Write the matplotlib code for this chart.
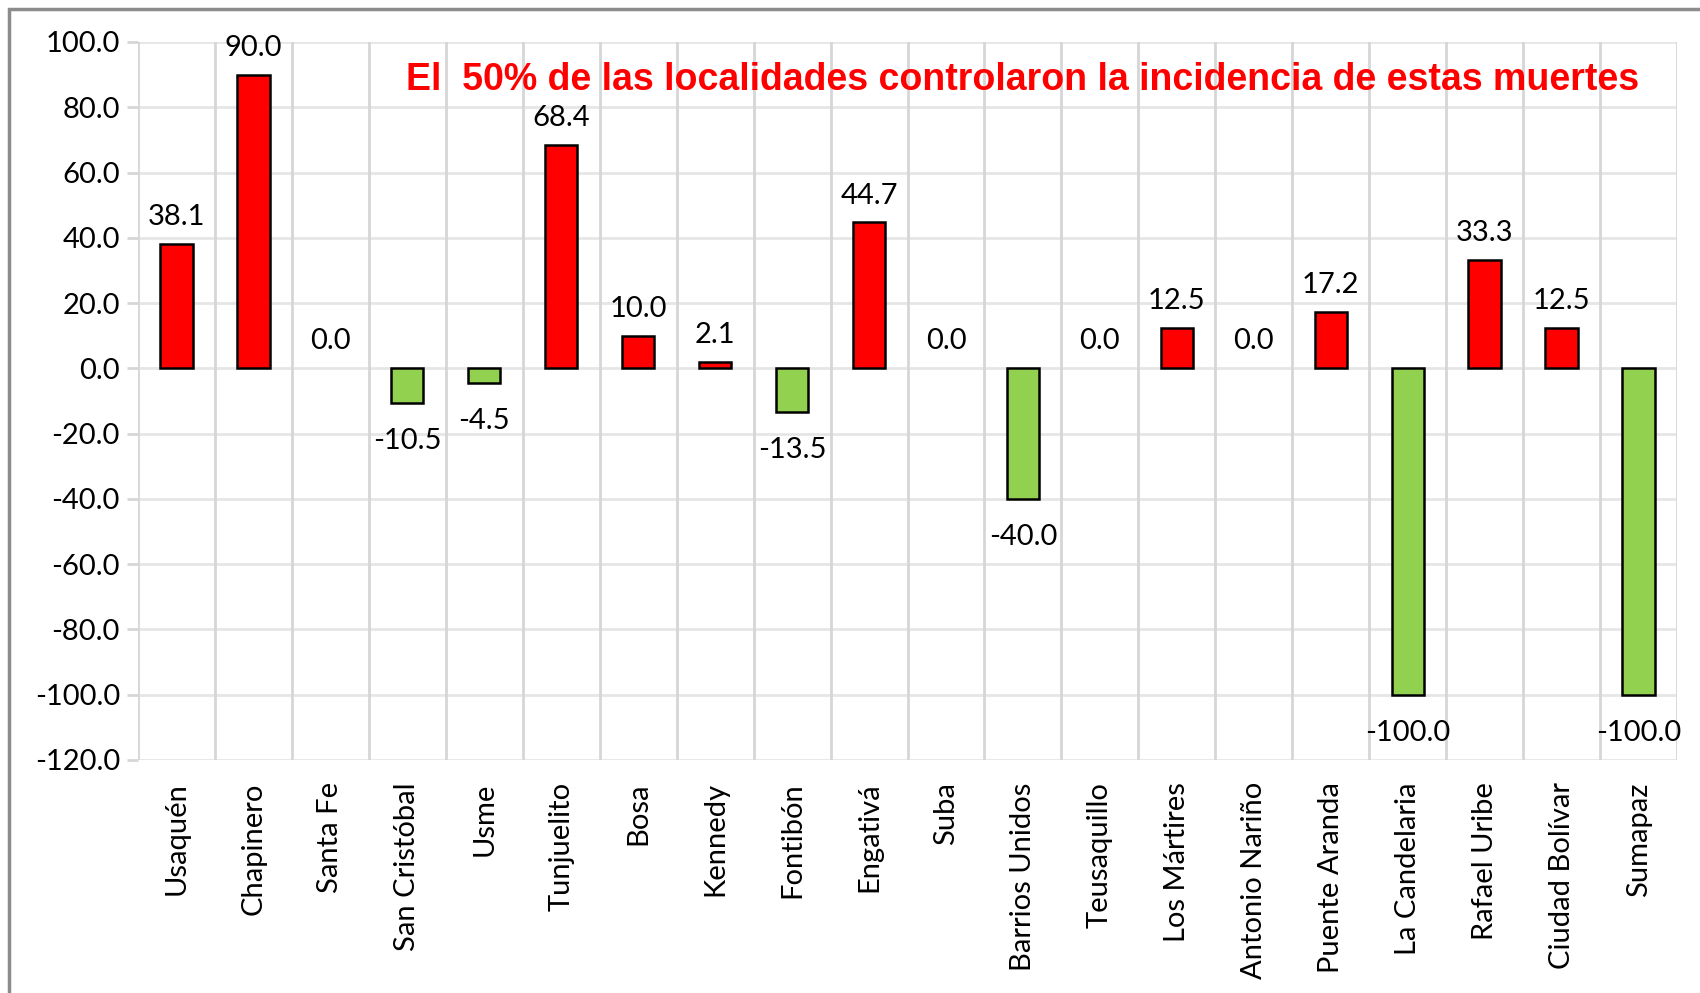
import matplotlib
matplotlib.use("Agg")
import matplotlib.pyplot as plt
from matplotlib.patches import Rectangle

categories = ["Usaquén", "Chapinero", "Santa Fe", "San Cristóbal", "Usme", "Tunjuelito",
              "Bosa", "Kennedy", "Fontibón", "Engativá", "Suba", "Barrios Unidos",
              "Teusaquillo", "Los Mártires", "Antonio Nariño", "Puente Aranda",
              "La Candelaria", "Rafael Uribe", "Ciudad Bolívar", "Sumapaz"]
values = [38.1, 90.0, 0.0, -10.5, -4.5, 68.4, 10.0, 2.1, -13.5, 44.7, 0.0, -40.0,
          0.0, 12.5, 0.0, 17.2, -100.0, 33.3, 12.5, -100.0]
yticks = [100, 80, 60, 40, 20, 0, -20, -40, -60, -80, -100, -120]
title = "El  50% de las localidades controlaron la incidencia de estas muertes"

RED = "#FF0000"
GREEN = "#92D050"
FONT = ["Lato", "DejaVu Sans"]
FS = 21

fig = plt.figure(figsize=(17, 9.93), dpi=100)
ax = fig.add_axes([138/1700, 1-760/993, (1677-138)/1700, (760-42)/993])

x = list(range(len(categories)))
colors = [RED if v > 0 else GREEN for v in values]
lws = [1.8 if v != 0 else 0 for v in values]
ax.bar(x, values, width=0.42, color=colors, edgecolor="black", linewidth=lws, zorder=3)

ax.set_xlim(-0.5, len(categories) - 0.5)
ax.set_ylim(-120, 100)

# grid
for yv in yticks:
    ax.axhline(yv, color="#e6e6e6", lw=2, zorder=1)
for i in range(len(categories) + 1):
    ax.axvline(i - 0.5, color="#d6d6d6", lw=2, zorder=1)

for s in ax.spines.values():
    s.set_visible(False)

ax.set_yticks(yticks)
ax.set_yticklabels([f"{v:.1f}" for v in yticks], fontsize=FS, family=FONT)
ax.tick_params(axis="y", length=8, width=2, color="#d6d6d6", pad=5)
ax.set_xticks(x)
ax.set_xticklabels(categories, rotation=90, fontsize=FS, family=FONT, va="top")
ax.tick_params(axis="x", length=0, pad=16)

# value labels
for xi, v in zip(x, values):
    if v > 0:
        ax.annotate(f"{v:.1f}", (xi, v), xytext=(0, 10), textcoords="offset points",
                    ha="center", va="bottom", fontsize=FS, family=FONT, zorder=4)
    elif v == 0:
        ax.annotate(f"{v:.1f}", (xi, v), xytext=(0, 10), textcoords="offset points",
                    ha="center", va="bottom", fontsize=FS, family=FONT, zorder=4)
    else:
        ax.annotate(f"{v:.1f}", (xi, v), xytext=(0, -18), textcoords="offset points",
                    ha="center", va="top", fontsize=FS, family=FONT, zorder=4)

fig.text(1023/1700, 1-80/993, title, color=RED, fontsize=27, fontweight="bold",
         family=["Liberation Sans", "DejaVu Sans"], ha="center", va="center")

# outer border
fig.patches.append(Rectangle((9/1700, -0.05), 1.1, 1-9/993+0.05, transform=fig.transFigure,
                             fill=False, edgecolor="#8c8c8c", lw=2.5))

fig.savefig("out.png", dpi=100)
